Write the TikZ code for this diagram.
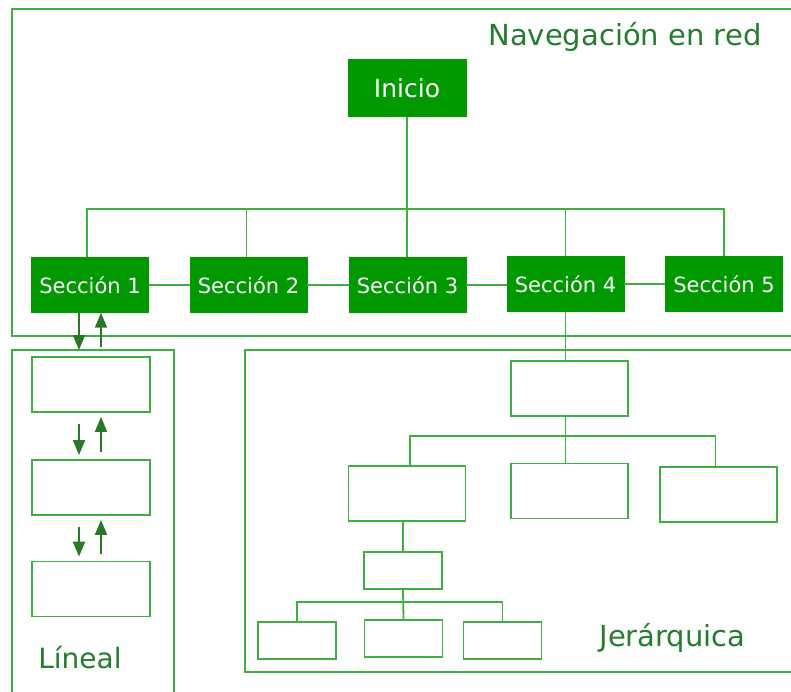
\documentclass[tikz,border=0pt]{standalone}
\usepackage{fontspec}
\setmainfont{DejaVu Sans}
\definecolor{navgreen}{RGB}{0, 153, 0}
\definecolor{linegreen}{RGB}{60, 175, 60}
\definecolor{arrowgreen}{RGB}{40, 120, 40}
\definecolor{textgreen}{RGB}{35, 125, 45}
\usetikzlibrary{arrows.meta, positioning, calc}

\begin{document}
\begin{tikzpicture}[x=1pt, y=-1pt,
  conn/.style={draw=linegreen, line width=1.8pt},
  secbox/.style={fill=navgreen, draw=navgreen, text=white, font=\fontsize{21}{21}\selectfont, minimum width=117pt, minimum height=55pt, inner sep=0pt},
  emptybox/.style={draw=linegreen, line width=1.8pt, fill=white, minimum width=117pt, minimum height=55pt, inner sep=0pt},
  smallbox/.style={emptybox, minimum width=78pt, minimum height=37pt},
  nav/.style={draw=arrowgreen, line width=1.8pt, -{Triangle[length=15pt, width=12pt]}},
  tag/.style={text=textgreen, font=\fontsize{28}{28}\selectfont}]
  \useasboundingbox (0,0) rectangle (791,691);
  \clip (0,0) rectangle (791,691);

  % Frames
  \draw[conn] (12,9) rectangle (800,336);
  \draw[conn] (12,700) -- (12,350) -- (174,350) -- (174,700);
  \draw[conn] (245,350) rectangle (800,672);
  \coordinate (lintop) at (90,350);

  % Network navigation
  \node[tag, font=\fontsize{29}{29}\selectfont] (titulo) at (625,37) {Navegación en red};
  \node[secbox, minimum width=118pt, minimum height=57pt, font=\fontsize{25}{25}\selectfont] (ini) at (407,88) {Inicio};
  \node[secbox] (s1) at (90,285) {Sección 1};
  \node[secbox] (s2) at (248.5,285) {Sección 2};
  \node[secbox] (s3) at (407.5,285) {Sección 3};
  \node[secbox] (s4) at (565.5,284) {Sección 4};
  \node[secbox] (s5) at (724,284) {Sección 5};

  \draw[conn] (ini.south) -- (ini.south |- s3.north);
  \draw[conn] ([xshift=-3pt]s1.north) -- ++(0,-48) coordinate (bus) -- (bus -| s5.north) -- (s5.north);
  \draw[conn] ([xshift=-2pt]s2.north) -- ([xshift=-2pt]s2.north |- bus);
  \draw[conn] (s4.north) -- (s4.north |- bus);
  \draw[conn] (s1) -- (s2) (s2) -- (s3) (s3.east) -- (s3.east -| s4.west) (s4) -- (s5);

  % Linear navigation
  \node[emptybox, minimum width=118pt] (l1) at (91,384.5) {};
  \node[emptybox, minimum width=118pt] (l2) at (91,487.5) {};
  \node[emptybox, minimum width=118pt] (l3) at (91,589) {};
  \node[tag] (lineal) at (80,657) {Líneal};

  \draw[nav] ([xshift=-11pt]s1.south) -- ([xshift=-11pt]lintop);
  \draw[nav] ([xshift=11pt]lintop) ++(0,-3) -- ([xshift=11pt]s1.south);
  \foreach \a/\b in {l1/l2, l2/l3} {
    \draw[nav, shorten <=11pt, shorten >=4pt] ([xshift=-12pt]\a.south) -- ([xshift=-12pt]\b.north);
    \draw[nav, shorten <=7pt, shorten >=4pt] ([xshift=10pt]\b.north) -- ([xshift=10pt]\a.south);
  }

  % Hierarchical navigation
  \node[emptybox] (h0) at (569.5,388.5) {};
  \node[emptybox] (ha) at (407,493.5) {};
  \node[emptybox] (hb) at (569.5,491) {};
  \node[emptybox] (hc) at (718.5,494.5) {};
  \node[smallbox] (hs) at (403,570.5) {};
  \node[smallbox] (h1) at (297,640.5) {};
  \node[smallbox] (h2) at (403.5,638.5) {};
  \node[smallbox] (h3) at (502.5,640.5) {};
  \node[tag, font=\fontsize{29}{29}\selectfont] (jerar) at (672.5,638) {Jerárquica};

  \draw[conn] (s4.south) -- (s4.south |- h0.north);
  \draw[conn] ([xshift=-4pt]h0.south) -- ([xshift=-4pt]hb.north);
  \draw[conn] ([xshift=3pt]ha.north) -- ++(0,-29) coordinate (hbus) -- ([xshift=-3pt]hbus -| hc.north) -- ([xshift=-3pt]hc.north);
  \draw[conn] (hs.north |- ha.south) -- (hs.north);
  \draw[conn] (hs.south) -- (h2.north);
  \draw[conn] (h1.north) -- ++(0,-19) coordinate (lbus) -- (lbus -| h3.north) -- (h3.north);
\end{tikzpicture}
\end{document}
